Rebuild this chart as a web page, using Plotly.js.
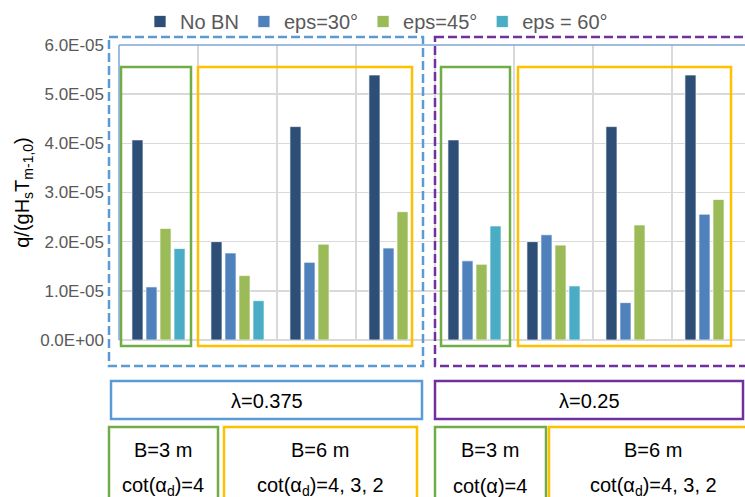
<!DOCTYPE html>
<html>
<head>
<meta charset="utf-8">
<script src="https://cdn.plot.ly/plotly-3.0.1.min.js"></script>
<style>html,body{margin:0;padding:0;background:#fff;}#chart{width:745px;height:497px;}</style>
</head>
<body>
<div id="chart"></div>
<script>
// ---- data ----
var categories = ["λ0.375 B3 cot4", "λ0.375 B6 cot4", "λ0.375 B6 cot3", "λ0.375 B6 cot2",
                  "λ0.25 B3 cot4", "λ0.25 B6 cot4", "λ0.25 B6 cot3", "λ0.25 B6 cot2"];
var seriesNames = ["No BN", "eps=30°", "eps=45°", "eps = 60°"];
var noBN  = [4.07e-5, 2.00e-5, 4.34e-5, 5.39e-5, 4.07e-5, 2.00e-5, 4.34e-5, 5.39e-5];
var eps30 = [1.08e-5, 1.77e-5, 1.58e-5, 1.87e-5, 1.61e-5, 2.14e-5, 0.76e-5, 2.56e-5];
var eps45 = [2.27e-5, 1.31e-5, 1.95e-5, 2.61e-5, 1.54e-5, 1.93e-5, 2.34e-5, 2.86e-5];
var eps60 = [1.86e-5, 0.80e-5, null, null, 2.32e-5, 1.10e-5, null, null];
var yTickVals = [0, 1e-5, 2e-5, 3e-5, 4e-5, 5e-5, 6e-5];
var yTickText = ["0.0E+00", "1.0E-05", "2.0E-05", "3.0E-05", "4.0E-05", "5.0E-05", "6.0E-05"];
var groupLabels = ["λ=0.375", "λ=0.25"];
var subLabels = ["B=3 m", "B=6 m", "B=3 m", "B=6 m"];
var subLabels2 = ["cot(α<sub>d</sub>)=4", "cot(α<sub>d</sub>)=4, 3, 2", "cot(α)=4", "cot(α<sub>d</sub>)=4, 3, 2"];

// ---- styling ----
var colors = ["#2d4e76", "#4f81bd", "#9bbb59", "#4bacc6"];
var W = 745, H = 497;
var L = 119, R = 0, T = 45, B = 157;
var PW = W - L - R, PH = H - T - B;
function px(x) { return (x - L) / PW; }
function py(y) { return (H - B - y) / PH; }

var allSeries = [noBN, eps30, eps45, eps60];
var traces = allSeries.map(function (vals, i) {
  return {
    type: "bar", x: categories, y: vals, name: seriesNames[i],
    marker: { color: colors[i], line: { color: "rgba(255,255,255,0.7)", width: 1 } },
    hoverinfo: "x+y+name"
  };
});

function rect(x0, y0, x1, y1, color, width, dash) {
  return { type: "rect", xref: "paper", yref: "paper",
    x0: px(x0), x1: px(x1), y0: py(y0), y1: py(y1),
    line: { color: color, width: width, dash: dash || "solid" }, fillcolor: "rgba(0,0,0,0)", layer: "above" };
}
function seg(x0, y0, x1, y1, color, width) {
  return { type: "line", xref: "paper", yref: "paper",
    x0: px(x0), x1: px(x1), y0: py(y0), y1: py(y1), line: { color: color, width: width }, layer: "above" };
}
var BLUE = "#5b9bd5", PURPLE = "#7030a0", GREEN = "#70ad47", YELLOW = "#ffc000";
var shapes = [
  seg(119, 45, 745, 45, "#7ea6d9", 1.5),
  seg(119, 45, 119, 340, "#7ea6d9", 1.5),
  rect(109, 37, 423, 366, BLUE, 2.5, "9px,4px"),
  rect(435, 37, 765, 366, PURPLE, 2.5, "9px,4px"),
  rect(121, 67, 191, 346, GREEN, 2.5),
  rect(198, 67, 412, 346, YELLOW, 2.5),
  rect(441, 67, 510, 346, GREEN, 2.5),
  rect(518, 67, 731, 346, YELLOW, 2.5),
  rect(111, 381, 422, 419, BLUE, 2.5),
  rect(435, 381, 743, 419, PURPLE, 2.5),
  rect(109, 427, 218, 505, GREEN, 2.5),
  rect(224, 427, 417, 505, YELLOW, 2.5),
  rect(435, 427, 546, 505, GREEN, 2.5),
  rect(549, 427, 765, 505, YELLOW, 2.5)
];

function ann(text, x, y) {
  return { text: text, xref: "paper", yref: "paper", x: px(x), y: py(y),
    xanchor: "center", yanchor: "middle", showarrow: false,
    font: { family: "Liberation Sans, Arial, sans-serif", size: 20, color: "#000" } };
}
var annotations = [
  ann(groupLabels[0], 267, 401), ann(groupLabels[1], 589, 401),
  ann(subLabels[0], 163, 450), ann(subLabels[1], 320, 450),
  ann(subLabels[2], 490, 450), ann(subLabels[3], 653, 450),
  ann(subLabels2[0], 163, 486), ann(subLabels2[1], 320, 486),
  ann(subLabels2[2], 490, 486), ann(subLabels2[3], 653, 486)
];

var layout = {
  width: W, height: H,
  margin: { l: L, r: R, t: T, b: B, pad: 0 },
  paper_bgcolor: "#fff", plot_bgcolor: "#fff",
  font: { family: "Liberation Sans, Arial, sans-serif", color: "#595959" },
  barmode: "group", bargap: 0.29, bargroupgap: 0.21,
  showlegend: true,
  legend: { orientation: "h", x: px(140), xanchor: "left", y: py(2), yanchor: "top",
    font: { size: 20, color: "#595959" }, bgcolor: "rgba(0,0,0,0)", traceorder: "normal" },
  xaxis: { type: "category", range: [-0.5, (745 - 119) / 79 - 0.5], showticklabels: false,
    tickson: "boundaries", ticks: "", showgrid: true, gridcolor: "#d9d9d9", gridwidth: 1.5,
    showline: false, zeroline: false, fixedrange: true },
  yaxis: { range: [0, 6e-5], tickvals: yTickVals, ticktext: yTickText, showgrid: true,
    gridcolor: "#d9d9d9", gridwidth: 1.5, zeroline: true, zerolinecolor: "#d9d9d9", zerolinewidth: 1.5,
    ticks: "", ticklabelstandoff: 14, tickfont: { size: 17, color: "#595959" },
    showline: false,
    title: { text: "q/(gH<sub>s</sub>T<sub>m-1,0</sub>)", standoff: 5,
      font: { size: 20, color: "#000" } } },
  shapes: shapes,
  annotations: annotations
};

Plotly.newPlot("chart", traces, layout, { displayModeBar: false, staticPlot: true });
</script>
</body>
</html>
